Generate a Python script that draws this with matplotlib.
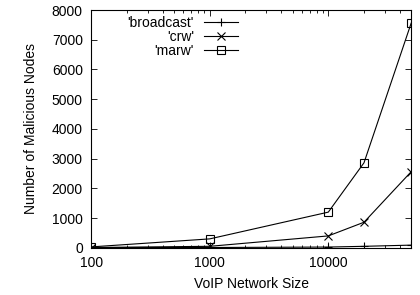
import matplotlib
matplotlib.use('Agg')
import matplotlib.pyplot as plt
from matplotlib.ticker import LogLocator, FixedLocator, FixedFormatter, NullFormatter

plt.rcParams['font.family'] = ['Liberation Sans', 'DejaVu Sans']

# network sizes and counts
sizes = [100, 1000, 10000, 20000, 50000]
broadcast = [5, 10, 25, 50, 90]
crw = [10, 50, 400, 860, 2560]
marw = [30, 300, 1200, 2860, 7560]
labels = ["'broadcast'", "'crw'", "'marw'"]

fig = plt.figure(figsize=(4.2, 2.95), dpi=100)
ax = fig.add_axes([0.217, 0.160, 0.762, 0.806])

ax.plot(sizes, broadcast, color='black', lw=0.8, marker='+', ms=6, mew=0.8, label=labels[0])
ax.plot(sizes, crw, color='black', lw=0.8, marker='x', ms=6, mew=0.8, label=labels[1])
ax.plot(sizes, marw, color='black', lw=0.8, marker='s', ms=6, mew=0.8, mfc='none', label=labels[2])

ax.set_xscale('log')
ax.set_xlim(100, 50000)
ax.set_ylim(0, 8000)
ax.xaxis.set_major_locator(FixedLocator([100, 1000, 10000]))
ax.xaxis.set_major_formatter(FixedFormatter(['100', '1000', '10000']))
ax.xaxis.set_minor_locator(LogLocator(base=10, subs=range(2, 10)))
ax.xaxis.set_minor_formatter(NullFormatter())
ax.set_yticks(range(0, 8001, 1000))

ax.tick_params(which='both', direction='in', top=True, right=True, labelsize=10, width=0.6, pad=6)
ax.tick_params(which='major', length=4)
ax.tick_params(which='minor', length=2)
for s in ax.spines.values():
    s.set_linewidth(0.8)

ax.set_xlabel('VoIP Network Size', fontsize=10, labelpad=5)
ax.set_ylabel('Number of Malicious Nodes', fontsize=10, labelpad=10)

ax.legend(loc='upper right', bbox_to_anchor=(0.46, 0.975), frameon=False, markerfirst=False,
          fontsize=10, handlelength=2.5, labelspacing=0.0, borderaxespad=0, borderpad=0,
          handletextpad=0.7)

fig.savefig('out.png', dpi=100)
